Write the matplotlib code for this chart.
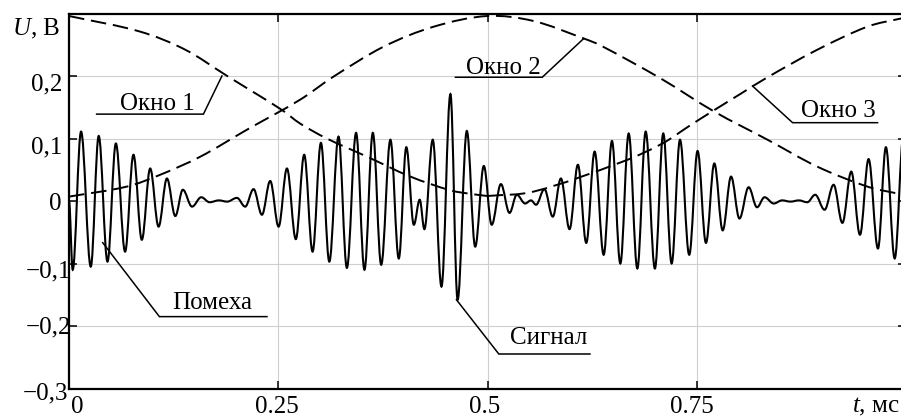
import matplotlib
matplotlib.use('Agg')
import matplotlib.pyplot as plt
from matplotlib.path import Path
from matplotlib.patches import PathPatch
from matplotlib.transforms import offset_copy

plt.rcParams['font.family'] = ['Liberation Serif', 'DejaVu Serif']
plt.rcParams['mathtext.fontset'] = 'custom'
plt.rcParams['mathtext.it'] = 'Liberation Serif:italic'
plt.rcParams['mathtext.rm'] = 'Liberation Serif'

# ---------------- data ----------------
# extrema of the received signal (t in ms, U in V)
signal_t = [0.0, 0.0044, 0.0144, 0.0260, 0.0355, 0.0460, 0.0560, 0.0670, 0.0770, 0.0870,
            0.0970, 0.1070, 0.1170, 0.1270, 0.1360, 0.1470, 0.1580, 0.1680, 0.1790, 0.1890,
            0.2006, 0.2105, 0.2205, 0.2305, 0.2404, 0.2504, 0.2604, 0.2710, 0.2810, 0.2910,
            0.3010, 0.3110, 0.3220, 0.3320, 0.3430, 0.3530, 0.3630, 0.3730, 0.3840, 0.3940,
            0.4030, 0.4120, 0.4190, 0.4246, 0.4346, 0.4450, 0.4557, 0.4643, 0.4753, 0.4853,
            0.4956, 0.5050, 0.5160, 0.5263, 0.5350, 0.5450, 0.5520, 0.5580, 0.5680, 0.5780,
            0.5877, 0.5980, 0.6080, 0.6180, 0.6280, 0.6388, 0.6487, 0.6587, 0.6687, 0.6790,
            0.6890, 0.7000, 0.7100, 0.7200, 0.7300, 0.7410, 0.7510, 0.7610, 0.7710, 0.7810,
            0.7910, 0.8010, 0.8120, 0.8220, 0.8310, 0.8420, 0.8520, 0.8620, 0.8720, 0.8820,
            0.8915, 0.9027, 0.9135, 0.9240, 0.9346, 0.9450, 0.9553, 0.9665, 0.9760, 0.9865,
            0.9970]
signal_u = [0.000, -0.110, 0.111, -0.105, 0.104, -0.097, 0.092, -0.081, 0.074, -0.062,
            0.052, -0.041, 0.036, -0.024, 0.018, -0.009, 0.006, -0.002, 0.001, -0.001,
            0.005, -0.009, 0.019, -0.022, 0.032, -0.041, 0.052, -0.061, 0.074, -0.081,
            0.093, -0.097, 0.103, -0.107, 0.109, -0.110, 0.109, -0.102, 0.098, -0.092,
            0.086, -0.038, 0.002, -0.045, 0.098, -0.137, 0.171, -0.158, 0.112, -0.073,
            0.056, -0.038, 0.027, -0.019, 0.010, -0.004, 0.001, -0.006, 0.019, -0.025,
            0.036, -0.045, 0.058, -0.067, 0.079, -0.086, 0.096, -0.100, 0.108, -0.108,
            0.111, -0.108, 0.108, -0.100, 0.098, -0.086, 0.080, -0.067, 0.060, -0.047,
            0.039, -0.028, 0.022, -0.010, 0.006, -0.004, 0.001, -0.001, 0.001, -0.002,
            0.010, -0.014, 0.026, -0.035, 0.047, -0.054, 0.067, -0.076, 0.086, -0.092,
            0.105]

window1_t = [0.000, 0.085, 0.139, 0.189, 0.254, 0.276, 0.308, 0.356, 0.408, 0.456, 0.482, 0.500]
window1_u = [0.296, 0.271, 0.242, 0.200, 0.146, 0.124, 0.100, 0.071, 0.039, 0.017, 0.011, 0.008]

window2_t = [0.000, 0.069, 0.109, 0.157, 0.2125, 0.276, 0.316, 0.376, 0.436, 0.500,
             0.555, 0.615, 0.635, 0.707, 0.771, 0.8346, 0.894, 0.954, 0.990, 1.000]
window2_u = [0.007, 0.023, 0.042, 0.071, 0.114, 0.162, 0.199, 0.247, 0.279, 0.296,
             0.288, 0.260, 0.249, 0.196, 0.143, 0.098, 0.055, 0.023, 0.012, 0.010]

window3_t = [0.500, 0.555, 0.6615, 0.709, 0.741, 0.768, 0.803, 0.8346, 0.894, 0.954, 0.994, 1.000]
window3_u = [0.008, 0.015, 0.063, 0.092, 0.120, 0.143, 0.172, 0.198, 0.242, 0.279, 0.292, 0.293]

x_ticks = [0.0, 0.25, 0.5, 0.75]
x_tick_labels = ['0', '0.25', '0.5', '0.75']
y_ticks = [-0.3, -0.2, -0.1, 0.0, 0.1, 0.2]
y_tick_labels = ['\u22120,3', '\u22120,2', '\u22120,1', '0', '0,1', '0,2']

labels = ['Окно 1', 'Окно 2', 'Окно 3', 'Помеха', 'Сигнал']

# ---------------- helpers ----------------
def extrema_path(t, u, k=0.3634):
    verts = [(t[0], u[0])]
    codes = [Path.MOVETO]
    for i in range(1, len(t)):
        dt = t[i] - t[i - 1]
        verts += [(t[i - 1] + k * dt, u[i - 1]), (t[i] - k * dt, u[i]), (t[i], u[i])]
        codes += [Path.CURVE4] * 3
    return Path(verts, codes)


def smooth_path(t, u):
    n = len(t)
    m = []
    for i in range(n):
        a = max(i - 1, 0)
        b = min(i + 1, n - 1)
        m.append((u[b] - u[a]) / (t[b] - t[a]))
    verts = [(t[0], u[0])]
    codes = [Path.MOVETO]
    for i in range(1, n):
        dt = t[i] - t[i - 1]
        verts += [(t[i - 1] + dt / 3, u[i - 1] + m[i - 1] * dt / 3),
                  (t[i] - dt / 3, u[i] - m[i] * dt / 3),
                  (t[i], u[i])]
        codes += [Path.CURVE4] * 3
    return Path(verts, codes)


# ---------------- figure ----------------
W, H = 901, 418
fig = plt.figure(figsize=(W / 100, H / 100), dpi=100)
L, R, T, B = 69, 906, 13.5, 388.5
ax = fig.add_axes([L / W, (H - B) / H, (R - L) / W, (B - T) / H])
ax.set_xlim(0, 1)
ax.set_ylim(-0.3, 0.3)

ax.set_xticks(x_ticks)
ax.set_yticks(y_ticks)
ax.set_xticklabels([])
ax.set_yticklabels([])
ax.grid(True, color='#cfcfcf', linewidth=0.8)
ax.set_axisbelow(True)
ax.tick_params(axis='both', direction='in', length=6, width=1.1, color='black',
               top=True, right=True)
for s in ax.spines.values():
    s.set_linewidth(1.6)

# signal
ax.add_patch(PathPatch(extrema_path(signal_t, signal_u), fill=False,
                       edgecolor='black', linewidth=1.5, zorder=3))
# windows
for wt, wu in [(window1_t, window1_u), (window2_t, window2_u), (window3_t, window3_u)]:
    ax.add_patch(PathPatch(smooth_path(wt, wu), fill=False, edgecolor='black',
                           linewidth=1.4, linestyle=(0, (8, 3.5)), zorder=4,
                           capstyle='butt'))

FS = 18
# y tick labels: (value, label, right edge px, baseline px)
ybase = {0.2: 90.7, 0.1: 153.0, 0.0: 210.0, -0.1: 277.0, -0.2: 333.0, -0.3: 399.0}
yend = {0.2: 62, 0.1: 62, 0.0: 62, -0.1: 71, -0.2: 71, -0.3: 68}
for v, lab in zip(y_ticks, y_tick_labels):
    key = round(v, 1)
    grid_px = T + (0.3 - v) / 0.6 * (B - T)
    tr = offset_copy(ax.get_yaxis_transform(), fig=fig, x=yend[key] - L,
                     y=-(ybase[key] - grid_px), units='dots')
    ax.text(0, v, lab, transform=tr, ha='right', va='baseline', fontsize=FS,
            clip_on=False)

# x tick labels
xcen = {0.0: 77.5, 0.25: 277.0, 0.5: 485.0, 0.75: 691.5}
for v, lab in zip(x_ticks, x_tick_labels):
    tick_px = L + v * (R - L)
    tr = offset_copy(ax.get_xaxis_transform(), fig=fig, x=xcen[v] - tick_px,
                     y=-(H - B), units='dots')
    ax.text(v, 0, lab, transform=tr, ha='center', va='bottom', fontsize=FS,
            clip_on=False)

fig.text(900 / W, 0.0, '$t$, мс', ha='right', va='bottom', fontsize=FS)
fig.text(11.7 / W, (H - 35) / H, '$U$, В', ha='left', va='baseline', fontsize=FS)

# annotations: text centre/baseline, underline span, leader end (data coords)
ann = [
    (labels[0], (0.106, 0.1456), (0.033, 0.1606, 0.139), (0.1827, 0.200)),
    (labels[1], (0.5185, 0.2032), (0.4617, 0.5654, 0.198), (0.615, 0.260)),
    (labels[2], (0.9187, 0.135), (0.8645, 0.966, 0.1253), (0.8166, 0.184)),
    (labels[3], (0.1717, -0.1728), (0.108, 0.2365, -0.185), (0.0403, -0.0667)),
    (labels[4], (0.573, -0.2288), (0.5135, 0.6224, -0.2448), (0.4629, -0.158)),
]
for text, (tx, ty), (u0, u1, uy), (ex, ey) in ann:
    ax.text(tx, ty, text, ha='center', va='baseline', fontsize=FS, zorder=6)
    if ex < u0:
        xs, ys = [u1, u0, ex], [uy, uy, ey]
    else:
        xs, ys = [u0, u1, ex], [uy, uy, ey]
    ax.plot(xs, ys, color='black', linewidth=1.1, zorder=6, solid_joinstyle='miter')

fig.savefig('out.png', dpi=100)
